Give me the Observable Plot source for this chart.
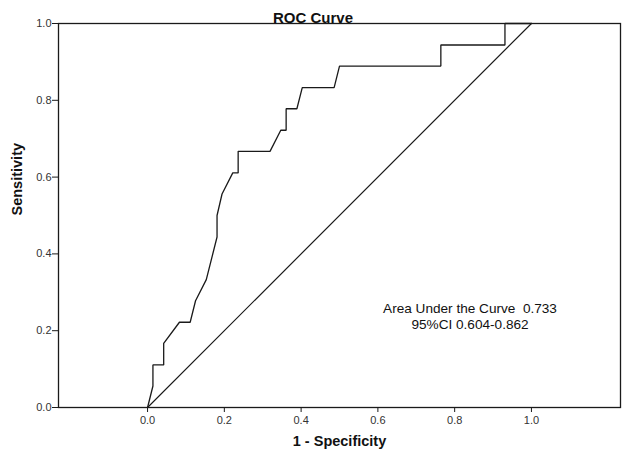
<!DOCTYPE html>
<html>
<head>
<meta charset="utf-8">
<script src="https://cdn.jsdelivr.net/npm/d3@7"></script>
<script src="https://cdn.jsdelivr.net/npm/@observablehq/plot@0.6"></script>
<style>
  html, body { margin: 0; padding: 0; background: #fff; }
  svg { display: block; }
</style>
</head>
<body>
<div id="chart"></div>
<script>
// ROC curve points (1 - specificity, sensitivity)
const fpr = [0, 0.014, 0.014, 0.042, 0.042, 0.083, 0.111, 0.125, 0.153, 0.181, 0.181, 0.194, 0.222, 0.236, 0.236, 0.319, 0.347, 0.361, 0.361, 0.389, 0.403, 0.486, 0.500, 0.764, 0.764, 0.931, 0.931, 1.0];
const tpr = [0, 0.056, 0.111, 0.111, 0.167, 0.222, 0.222, 0.278, 0.333, 0.444, 0.500, 0.556, 0.611, 0.611, 0.667, 0.667, 0.722, 0.722, 0.778, 0.778, 0.833, 0.833, 0.889, 0.889, 0.944, 0.944, 1.0, 1.0];
const refX = [0, 1];
const refY = [0, 1];
const xTicks = [0, 0.2, 0.4, 0.6, 0.8, 1.0];
const yTicks = [0, 0.2, 0.4, 0.6, 0.8, 1.0];
const titleText = "ROC Curve";
const xLabel = "1 - Specificity";
const yLabel = "Sensitivity";
const noteLines = ["Area Under the Curve  0.733", "95%CI 0.604-0.862"];
const noteX = [0.84, 0.84];
const noteY = [0.257, 0.216];

const curve = fpr.map((x, i) => ({x, y: tpr[i]}));
const ref = refX.map((x, i) => ({x, y: refY[i]}));
const notes = noteLines.map((t, i) => ({t, x: noteX[i], y: noteY[i]}));

const font = "'Liberation Sans', Arial, sans-serif";

const chart = Plot.plot({
  width: 625,
  height: 455,
  marginLeft: 58,
  marginRight: 5,
  marginTop: 23,
  marginBottom: 48,
  style: {fontFamily: font, background: "#fff", color: "#222"},
  x: {domain: [-0.232, 1.232]},
  y: {domain: [0, 1]},
  marks: [
    Plot.frame({stroke: "#1a1a1a", strokeWidth: 1.3}),
    Plot.axisX({ticks: xTicks, tickFormat: d3.format(".1f"), tickSize: 5, tickPadding: 4, fontSize: 11, label: null, stroke: "#1a1a1a", fill: "#333"}),
    Plot.axisY({ticks: yTicks, tickFormat: d3.format(".1f"), tickSize: 6, tickPadding: 1, fontSize: 11, label: null, stroke: "#1a1a1a", fill: "#333"}),
    Plot.line(ref, {x: "x", y: "y", stroke: "#1a1a1a", strokeWidth: 1.2}),
    Plot.line(curve, {x: "x", y: "y", stroke: "#1a1a1a", strokeWidth: 1.3, strokeLinejoin: "miter"}),
    Plot.text(notes, {x: "x", y: "y", text: "t", fontSize: 13.6, fill: "#111", textAnchor: "middle"}),
    Plot.text([titleText], {frameAnchor: "top", text: d => d, dx: -26.5, dy: -11.5, fontSize: 15, fontWeight: "bold", fill: "#111"}),
    Plot.text([xLabel], {frameAnchor: "bottom", text: d => d, dy: 38, fontSize: 14.5, fontWeight: "bold", fill: "#111"}),
    Plot.text([yLabel], {frameAnchor: "left", text: d => d, dx: -41, rotate: -90, fontSize: 14.5, fontWeight: "bold", fill: "#111"})
  ]
});
document.getElementById("chart").appendChild(chart);
</script>
</body>
</html>
